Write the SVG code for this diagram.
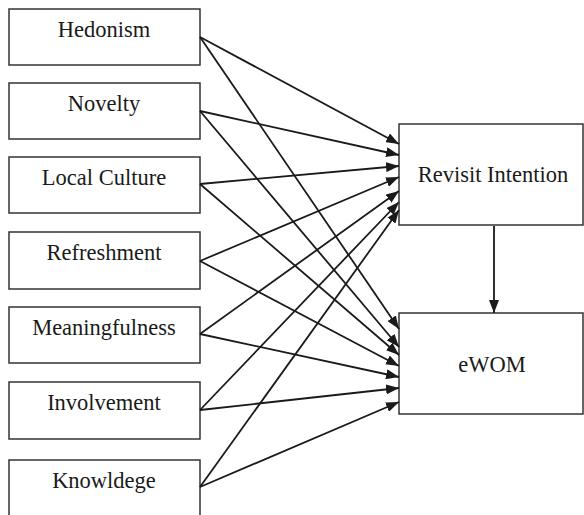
<svg xmlns="http://www.w3.org/2000/svg" width="584" height="515" viewBox="0 0 584 515">
<style>
.box{fill:#fff;stroke:#333;stroke-width:1.5}
.lbl{font-family:"Liberation Serif","Times New Roman",serif;font-size:22.5px;fill:#1a1a1a;text-anchor:middle}
.edge{stroke:#1a1a1a;stroke-width:1.8;fill:none;marker-end:url(#ah)}
</style>
<defs>
<marker id="ah" markerUnits="userSpaceOnUse" markerWidth="14" markerHeight="10" viewBox="0 0 14 10" refX="13" refY="5" orient="auto">
<path d="M0,0 L13,5 L0,10 Z" fill="#1a1a1a"/>
</marker>
</defs>
<rect width="584" height="515" fill="#fff"/>
<g id="hedonism"><rect class="box" x="9" y="9" width="191" height="56"/><text class="lbl" x="104" y="37">Hedonism</text></g>
<g id="novelty"><rect class="box" x="9" y="83" width="191" height="56"/><text class="lbl" x="104" y="111">Novelty</text></g>
<g id="local-culture"><rect class="box" x="9" y="157" width="191" height="56"/><text class="lbl" x="104" y="185">Local Culture</text></g>
<g id="refreshment"><rect class="box" x="9" y="232" width="191" height="57"/><text class="lbl" x="104" y="260">Refreshment</text></g>
<g id="meaningfulness"><rect class="box" x="9" y="307" width="191" height="56"/><text class="lbl" x="104" y="335">Meaningfulness</text></g>
<g id="involvement"><rect class="box" x="9" y="382" width="191" height="57"/><text class="lbl" x="104" y="410">Involvement</text></g>
<g id="knowldege"><rect class="box" x="9" y="460" width="191" height="60"/><text class="lbl" x="104" y="488">Knowldege</text></g>
<g id="revisit-intention"><rect class="box" x="399" y="124" width="184" height="101"/><text class="lbl" x="493" y="182">Revisit Intention</text></g>
<g id="ewom"><rect class="box" x="399" y="313" width="184" height="101"/><text class="lbl" x="492" y="372">eWOM</text></g>
<g id="connectors">
<line class="edge" x1="200" y1="37" x2="399" y2="144"/>
<line class="edge" x1="200" y1="111" x2="399" y2="155"/>
<line class="edge" x1="200" y1="184" x2="399" y2="166"/>
<line class="edge" x1="200" y1="261" x2="399" y2="177"/>
<line class="edge" x1="200" y1="334" x2="399" y2="191"/>
<line class="edge" x1="200" y1="410" x2="399" y2="202"/>
<line class="edge" x1="200" y1="487" x2="399" y2="210"/>
<line class="edge" x1="200" y1="37" x2="399" y2="329"/>
<line class="edge" x1="200" y1="111" x2="399" y2="347"/>
<line class="edge" x1="200" y1="184" x2="399" y2="355"/>
<line class="edge" x1="200" y1="261" x2="399" y2="366"/>
<line class="edge" x1="200" y1="334" x2="399" y2="377"/>
<line class="edge" x1="200" y1="410" x2="399" y2="388"/>
<line class="edge" x1="200" y1="487" x2="399" y2="402"/>
<line class="edge" x1="494" y1="226" x2="494" y2="313"/>
</g>
</svg>
